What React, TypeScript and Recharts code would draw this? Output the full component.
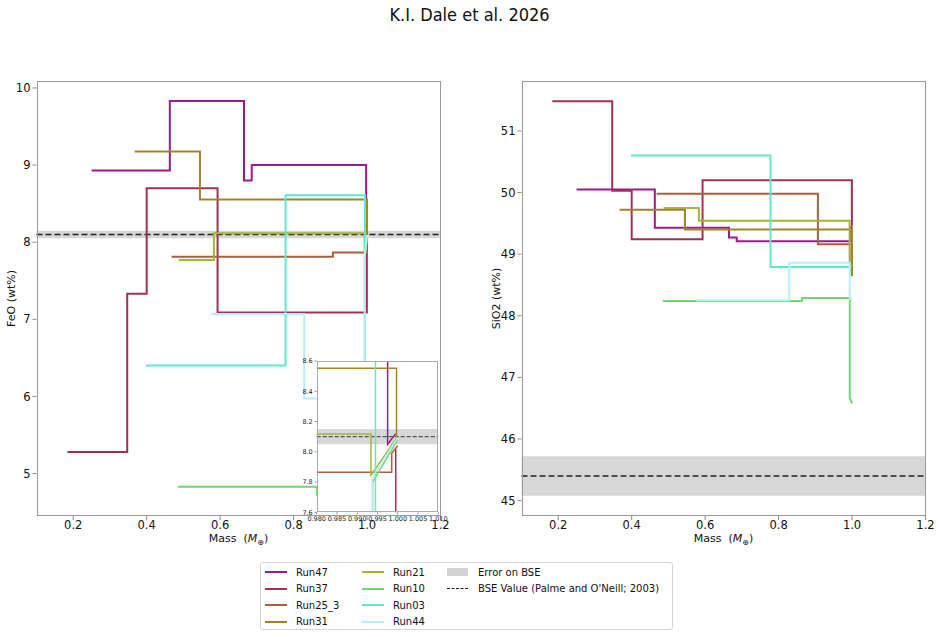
import { LineChart, Line, XAxis, YAxis, ReferenceArea, ReferenceLine } from 'recharts'

const FONT = 'DejaVu Sans, Verdana, sans-serif'

const runNames = ['Run47', 'Run37', 'Run25_3', 'Run31', 'Run21', 'Run10', 'Run03', 'Run44']
const runColors = ['#9e1a8a', '#a0305a', '#aa6040', '#a08428', '#a5b432', '#74d474', '#5eeac8', '#b4f0f8']

// track of each run: mass (Earth masses) and mantle FeO / SiO2 (wt%) at each vertex
const run47Mass = [0.25, 0.463, 0.463, 0.665, 0.665, 0.686, 0.686, 0.9975, 0.9975, 0.9995]
const run47FeO = [8.93, 8.93, 9.83, 9.83, 8.8, 8.8, 9.0, 9.0, 8.05, 8.12]
const run47SiO2 = [50.05, 50.05, 49.43, 49.43, 49.27, 49.27, 49.21, 49.21, 49.45, 49.4]

const run37Mass = [0.184, 0.347, 0.347, 0.4, 0.4, 0.593, 0.593, 0.9995, 0.9995]
const run37FeO = [5.28, 5.28, 7.33, 7.33, 8.7, 8.7, 7.09, 7.09, 8.02]
const run37SiO2 = [51.48, 51.48, 50.03, 50.03, 49.24, 49.24, 50.2, 50.2, 49.45]

const run25Mass = [0.468, 0.907, 0.907, 0.9985, 0.9985, 1.0]
const run25FeO = [7.81, 7.81, 7.865, 7.865, 7.99, 8.04]
const run25SiO2 = [49.98, 49.98, 49.16, 49.16, 48.7, 48.65]

const run31Mass = [0.367, 0.545, 0.545, 0.9997, 0.9997]
const run31FeO = [9.175, 9.175, 8.552, 8.552, 8.1]
const run31SiO2 = [49.72, 49.72, 49.4, 49.4, 48.64]

const run21Mass = [0.487, 0.583, 0.583, 0.9934, 0.9934, 0.9997]
const run21FeO = [7.77, 7.77, 8.117, 8.117, 7.846, 8.09]
const run21SiO2 = [49.75, 49.75, 49.54, 49.54, 48.85, 48.8]

const run10Mass = [0.485, 0.864, 0.864, 0.9938, 0.9938, 1.0]
const run10FeO = [4.83, 4.83, 4.72, 4.72, 7.8, 8.08]
const run10SiO2 = [48.24, 48.24, 48.29, 48.29, 46.66, 46.58]

const run03Mass = [0.398, 0.778, 0.778, 0.9945, 0.9945]
const run03FeO = [6.4, 6.4, 8.61, 8.61, 7.2]
const run03SiO2 = [50.6, 50.6, 48.79, 48.79, 48.68]

const run44Mass = [0.575, 0.829, 0.829, 0.9937, 0.9937, 1.0]
const run44FeO = [7.07, 7.07, 5.975, 5.975, 7.83, 8.095]
const run44SiO2 = [48.25, 48.25, 48.86, 48.86, 48.28, 48.25]

// bulk silicate Earth (Palme and O'Neill 2003)
const bseFeO = 8.1
const bseFeOErr = 0.05
const bseSiO2 = 45.4
const bseSiO2Err = 0.32

const massTicks = [0.2, 0.4, 0.6, 0.8, 1.0, 1.2]
const feoTicks = [5, 6, 7, 8, 9, 10]
const sio2Ticks = [45, 46, 47, 48, 49, 50, 51]
const insetMassTicks = [0.98, 0.985, 0.99, 0.995, 1.0, 1.005, 1.01]
const insetFeoTicks = [7.6, 7.8, 8.0, 8.2, 8.4, 8.6]

const runs = [
  { mass: run47Mass, feo: run47FeO, sio2: run47SiO2 },
  { mass: run37Mass, feo: run37FeO, sio2: run37SiO2 },
  { mass: run25Mass, feo: run25FeO, sio2: run25SiO2 },
  { mass: run31Mass, feo: run31FeO, sio2: run31SiO2 },
  { mass: run21Mass, feo: run21FeO, sio2: run21SiO2 },
  { mass: run10Mass, feo: run10FeO, sio2: run10SiO2 },
  { mass: run03Mass, feo: run03FeO, sio2: run03SiO2 },
  { mass: run44Mass, feo: run44FeO, sio2: run44SiO2 },
].map((r, i) => ({ ...r, name: runNames[i], color: runColors[i] }))

type Field = 'feo' | 'sio2'

function track(run: (typeof runs)[number], field: Field) {
  return run.mass.map((m, i) => ({ m, v: run[field][i] }))
}

const PLOT_TOP = 81
const PLOT_H = 435
const PLOT_W = 404
const YAXIS_W = 36.5

function MassLabel({ viewBox }: any) {
  return (
    <text x={viewBox.x + viewBox.width / 2} y={viewBox.y + 26} textAnchor="middle" fontSize={11} fontFamily={FONT} fill="#111">
      Mass{'\u00a0\u00a0'}(<tspan fontStyle="italic">M</tspan>
      <tspan fontSize={8} dy={3}>⊕</tspan>
      <tspan dy={-3}>)</tspan>
    </text>
  )
}

function YLabel({ viewBox, text }: any) {
  const cx = viewBox.x + 12
  const cy = viewBox.y + viewBox.height / 2
  return (
    <text x={cx} y={cy} transform={`rotate(-90 ${cx} ${cy})`} textAnchor="middle" dominantBaseline="middle" fontSize={11} fontFamily={FONT} fill="#111">
      {text}
    </text>
  )
}

function Panel({ plotLeft, field, yDomain, yTicks, yLabel, bse, err }: any) {
  return (
    <>
      <div style={{ position: 'absolute', left: plotLeft - YAXIS_W, top: 0 }}>
        <LineChart width={YAXIS_W + PLOT_W + 10} height={PLOT_TOP + PLOT_H + 44} margin={{ top: PLOT_TOP, right: 10, left: 0, bottom: 0 }}>
          <XAxis
            type="number"
            dataKey="m"
            domain={[0.1, 1.2]}
            ticks={massTicks}
            tickFormatter={(v: number) => v.toFixed(1)}
            allowDataOverflow
            height={44}
            axisLine={false}
            tickLine={{ stroke: '#888' }}
            tickSize={4}
            tickMargin={1}
            tick={{ fontSize: 11.5, fill: '#111', fontFamily: FONT }}
            label={<MassLabel />}
          />
          <YAxis
            type="number"
            domain={yDomain}
            ticks={yTicks}
            allowDataOverflow
            width={YAXIS_W}
            axisLine={false}
            tickLine={{ stroke: '#888' }}
            tickSize={4}
            tick={{ fontSize: 11.5, fill: '#111', fontFamily: FONT }}
            label={<YLabel text={yLabel} />}
          />
          <ReferenceArea y1={bse - err} y2={bse + err} fill="#d3d3d3" fillOpacity={0.9} stroke="none" />
          <ReferenceLine y={bse} stroke="#222" strokeDasharray="6 3" strokeWidth={1.5} />
          {runs.map((r) => (
            <Line key={r.name} data={track(r, field)} dataKey="v" type="linear" stroke={r.color} strokeWidth={2} dot={false} activeDot={false} isAnimationActive={false} />
          ))}
        </LineChart>
      </div>
      <div style={{ position: 'absolute', left: plotLeft, top: PLOT_TOP, width: PLOT_W, height: PLOT_H, border: '1px solid #999', boxSizing: 'border-box', pointerEvents: 'none' }} />
    </>
  )
}

// zoom on the last giant impacts, drawn over the FeO panel
const INSET_LEFT = 316.7
const INSET_TOP = 361
const INSET_W = 121.6
const INSET_H = 151.3
const INSET_YAXIS_W = 19.7

function Inset() {
  return (
    <>
      <div style={{ position: 'absolute', left: INSET_LEFT, top: INSET_TOP, width: INSET_W, height: INSET_H, background: '#fff' }} />
      <div style={{ position: 'absolute', left: INSET_LEFT - INSET_YAXIS_W, top: INSET_TOP - 6 }}>
        <LineChart width={INSET_YAXIS_W + INSET_W + 14} height={6 + INSET_H + 12} margin={{ top: 6, right: 14, left: 0, bottom: 0 }}>
          <XAxis
            type="number"
            dataKey="m"
            domain={[0.98, 1.01]}
            ticks={insetMassTicks}
            tickFormatter={(v: number) => v.toFixed(3)}
            allowDataOverflow
            interval={0}
            height={12}
            axisLine={false}
            tickLine={{ stroke: '#888' }}
            tickSize={2}
            tick={{ fontSize: 6.5, fill: '#222', fontFamily: FONT }}
          />
          <YAxis
            type="number"
            domain={[7.6, 8.6]}
            ticks={insetFeoTicks}
            tickFormatter={(v: number) => v.toFixed(1)}
            allowDataOverflow
            interval={0}
            width={INSET_YAXIS_W}
            axisLine={false}
            tickLine={{ stroke: '#888' }}
            tickSize={2}
            tick={{ fontSize: 6.5, fill: '#222', fontFamily: FONT }}
          />
          <ReferenceArea y1={bseFeO - bseFeOErr} y2={bseFeO + bseFeOErr} fill="#d3d3d3" fillOpacity={0.9} stroke="none" />
          <ReferenceLine y={bseFeO} stroke="#555" strokeDasharray="4 2" strokeWidth={1.2} />
          {runs.map((r) => (
            <Line key={r.name} data={track(r, 'feo')} dataKey="v" type="linear" stroke={r.color} strokeWidth={1.5} dot={false} activeDot={false} isAnimationActive={false} />
          ))}
        </LineChart>
      </div>
      <div style={{ position: 'absolute', left: INSET_LEFT, top: INSET_TOP, width: INSET_W, height: INSET_H, border: '1px solid #aaa', boxSizing: 'border-box', pointerEvents: 'none' }} />
    </>
  )
}

function LegendBox() {
  const col1 = runs.slice(0, 4)
  const col2 = runs.slice(4)
  const rowH = 16.5
  const swatch = (color: string) => <div style={{ width: 22, height: 0, borderTop: `2px solid ${color}`, marginRight: 9 }} />
  const item = (key: string, mark: any, text: string) => (
    <div key={key} style={{ display: 'flex', alignItems: 'center', height: rowH, whiteSpace: 'nowrap' }}>
      {mark}
      <span>{text}</span>
    </div>
  )
  return (
    <div style={{ position: 'absolute', left: 260, top: 562, width: 413, height: 68, border: '1px solid #d5d5d5', borderRadius: 3, boxSizing: 'border-box', background: '#fff', fontFamily: FONT, fontSize: 10, color: '#111', display: 'flex', padding: '1px 0 0 4px' }}>
      <div style={{ width: 97 }}>{col1.map((r) => item(r.name, swatch(r.color), r.name))}</div>
      <div style={{ width: 85 }}>{col2.map((r) => item(r.name, swatch(r.color), r.name))}</div>
      <div>
        {item('err', <div style={{ width: 21, height: 8, background: '#d3d3d3', marginRight: 10 }} />, 'Error on BSE')}
        {item('bse', <div style={{ width: 21, height: 0, borderTop: '1.5px dashed #222', marginRight: 10 }} />, "BSE Value (Palme and O'Neill; 2003)")}
      </div>
    </div>
  )
}

export default function App() {
  return (
    <div style={{ position: 'absolute', left: 0, top: 0, width: 939, height: 637, background: '#fff', overflow: 'hidden' }}>
      <div style={{ position: 'absolute', left: 0, width: 939, top: 4, textAlign: 'center', fontFamily: 'Liberation Sans Narrow, DejaVu Sans Condensed, sans-serif', fontStretch: 'condensed', fontSize: 18, color: '#111' }}>
        K.I. Dale et al. 2026
      </div>
      <Panel plotLeft={36.5} field="feo" yDomain={[4.45, 10.09]} yTicks={feoTicks} yLabel="FeO (wt%)" bse={bseFeO} err={bseFeOErr} />
      <Inset />
      <Panel plotLeft={521.7} field="sio2" yDomain={[44.75, 51.81]} yTicks={sio2Ticks} yLabel="SiO2 (wt%)" bse={bseSiO2} err={bseSiO2Err} />
      <LegendBox />
    </div>
  )
}
